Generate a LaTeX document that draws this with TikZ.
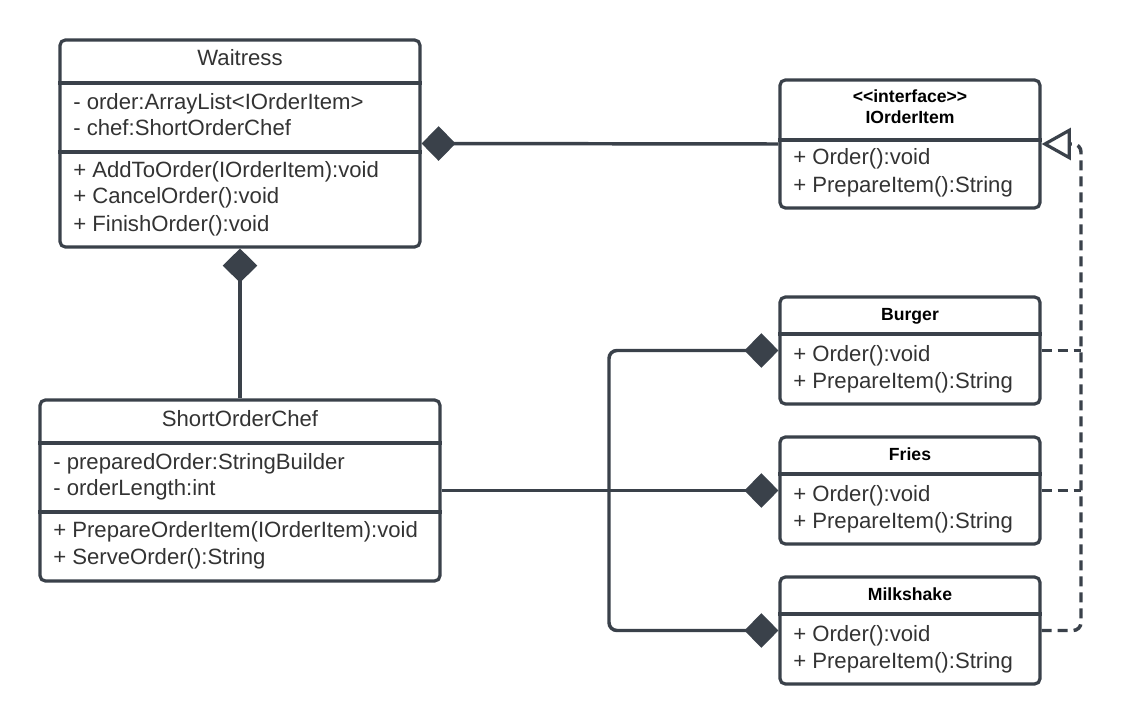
\documentclass[tikz,border=0pt]{standalone}
\usepackage{fontspec}
\setmainfont{Liberation Sans}
\usetikzlibrary{arrows.meta}
\definecolor{lc}{HTML}{3A414A}
\definecolor{tc}{HTML}{333333}
\begin{document}
\begin{tikzpicture}[x=0.75pt,y=-0.75pt,
 classbox/.style={draw=lc, line width=2.4pt, rounded corners=4pt, fill=white, inner sep=0pt},
 divline/.style={draw=lc, line width=2.4pt},
 member/.style={anchor=base west, inner sep=0pt, text=tc, font=\fontsize{16.6}{19}\selectfont},
 cname/.style={anchor=base, inner sep=0pt, text=tc, font=\fontsize{16.6}{19}\selectfont},
 bname/.style={anchor=base, inner sep=0pt, text=black, font=\bfseries\fontsize{13.2}{16}\selectfont},
 comp/.style={draw=lc, line width=2.6pt, -{Diamond[length=25.5pt,width=26pt,line width=0pt]}},
 real/.style={draw=lc, line width=2.6pt, dash pattern=on 7.5pt off 4.5pt, -{Triangle[open,length=22pt,width=24pt,line width=2.4pt,fill=white]}},
 realline/.style={draw=lc, line width=2.6pt, dash pattern=on 7.5pt off 4.5pt},
]
\useasboundingbox (0,0) rectangle (1122,724);
\fill[white] (0,0) rectangle (1122,724);

% boxes
\node[classbox, minimum width=270pt, minimum height=155.25pt] (w) at (240,143.5) {};
\node[classbox, minimum width=195pt, minimum height=96pt] (ioi) at (910,144) {};
\node[classbox, minimum width=300pt, minimum height=135.75pt] (chef) at (240,490.5) {};
\node[classbox, minimum width=195pt, minimum height=80.25pt] (burger) at (910,350.5) {};
\node[classbox, minimum width=195pt, minimum height=80.25pt] (fries) at (910,490.5) {};
\node[classbox, minimum width=195pt, minimum height=80.25pt] (milk) at (910,630.5) {};

% dividers
\draw[divline] (w.west |- 0,83) -- (w.east |- 0,83);
\draw[divline] (w.west |- 0,152) -- (w.east |- 0,152);
\draw[divline] (ioi.west |- 0,140) -- (ioi.east |- 0,140);
\draw[divline] (chef.west |- 0,443) -- (chef.east |- 0,443);
\draw[divline] (chef.west |- 0,512) -- (chef.east |- 0,512);
\draw[divline] (burger.west |- 0,334) -- (burger.east |- 0,334);
\draw[divline] (fries.west |- 0,474) -- (fries.east |- 0,474);
\draw[divline] (milk.west |- 0,614) -- (milk.east |- 0,614);

% Waitress text
\node[cname] (wt) at (240,66) {Waitress};
\node[member] (wa1) at (73,110) {- order:ArrayList<IOrderItem>};
\node[member] (wa2) at (73,136) {- chef:ShortOrderChef};
\node[member] (wm1) at (73,177) {+ AddToOrder(IOrderItem):void};
\node[member] (wm2) at (73,204) {+ CancelOrder():void};
\node[member] (wm3) at (73,231) {+ FinishOrder():void};

% IOrderItem text
\node[bname] (it1) at (910,103) {<{}<interface>{}>};
\node[bname] (it2) at (910,123) {IOrderItem};
\node[member] (im1) at (793,165) {+ Order():void};
\node[member] (im2) at (793,192) {+ PrepareItem():String};

% ShortOrderChef text
\node[cname] (ct) at (240,426) {ShortOrderChef};
\node[member] (ca1) at (53,469) {- preparedOrder:StringBuilder};
\node[member] (ca2) at (53,495) {- orderLength:int};
\node[member] (cm1) at (53,537) {+ PrepareOrderItem(IOrderItem):void};
\node[member] (cm2) at (53,564) {+ ServeOrder():String};

% items text
\node[bname] (bt) at (910,320) {Burger};
\node[member] (bm1) at (793,361) {+ Order():void};
\node[member] (bm2) at (793,388) {+ PrepareItem():String};
\node[bname] (ft) at (910,460) {Fries};
\node[member] (fm1) at (793,501) {+ Order():void};
\node[member] (fm2) at (793,528) {+ PrepareItem():String};
\node[bname] (mt) at (910,600) {Milkshake};
\node[member] (mm1) at (793,641) {+ Order():void};
\node[member] (mm2) at (793,668) {+ PrepareItem():String};

% compositions
\draw[comp] (ioi.west) -- (w.east);
\draw[comp] (chef.north) -- (w.south);
\coordinate (jn) at (609,490.5);
\draw[comp] (chef.east) -- (fries.west);
\draw[comp, rounded corners=6pt] (jn) |- (burger.west);
\draw[comp, rounded corners=6pt] (jn) |- (milk.west);

% realizations
\coordinate (rr) at (1081,0);
\draw[real, rounded corners=6pt] (milk.east) -| (rr |- ioi.east) -- (ioi.east);
\draw[realline] (burger.east) -- (burger.east -| rr);
\draw[realline] (fries.east) -- (fries.east -| rr);
\end{tikzpicture}
\end{document}
